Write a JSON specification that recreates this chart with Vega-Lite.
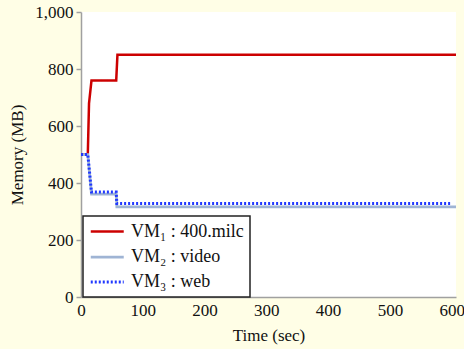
{
  "$schema": "https://vega.github.io/schema/vega-lite/v6.json",
  "autosize": {"type": "none"},
  "padding": {"left": 81, "top": 12, "right": 8, "bottom": 52},
  "width": 375,
  "height": 285,
  "background": "#fffee6",
  "config": {
    "view": {"fill": "white", "stroke": null},
    "font": "Liberation Serif",
    "axis": {
      "grid": false,
      "domainColor": "#a0a0a0",
      "domainWidth": 1.5,
      "tickColor": "#a0a0a0",
      "tickWidth": 1.5,
      "labelColor": "#111111",
      "titleColor": "#111111",
      "labelFont": "Liberation Serif",
      "titleFont": "Liberation Serif",
      "labelFontSize": 17,
      "titleFontSize": 17,
      "titleFontWeight": "normal"
    },
    "legend": {
      "labelFont": "Liberation Serif",
      "labelFontSize": 18,
      "labelColor": "#111111",
      "strokeColor": "#222222",
      "strokeWidth": 1.5,
      "fillColor": "white",
      "padding": 6,
      "rowPadding": 6,
      "symbolType": "M-1,0H3",
      "symbolSize": 272,
      "labelOffset": 22,
      "labelLimit": 300
    }
  },
  "data": {
    "values": [
      {"t": 0, "mem": 500, "vm": "VM₁ : 400.milc"},
      {"t": 11, "mem": 500, "vm": "VM₁ : 400.milc"},
      {"t": 13, "mem": 680, "vm": "VM₁ : 400.milc"},
      {"t": 17, "mem": 760, "vm": "VM₁ : 400.milc"},
      {"t": 57, "mem": 760, "vm": "VM₁ : 400.milc"},
      {"t": 59, "mem": 850, "vm": "VM₁ : 400.milc"},
      {"t": 607, "mem": 850, "vm": "VM₁ : 400.milc"},
      {"t": 0, "mem": 500, "vm": "VM₂ : video"},
      {"t": 11, "mem": 500, "vm": "VM₂ : video"},
      {"t": 17, "mem": 361, "vm": "VM₂ : video"},
      {"t": 57, "mem": 361, "vm": "VM₂ : video"},
      {"t": 58, "mem": 316, "vm": "VM₂ : video"},
      {"t": 607, "mem": 316, "vm": "VM₂ : video"},
      {"t": 0, "mem": 500, "vm": "VM₃ : web"},
      {"t": 11, "mem": 500, "vm": "VM₃ : web"},
      {"t": 17, "mem": 368, "vm": "VM₃ : web"},
      {"t": 57, "mem": 368, "vm": "VM₃ : web"},
      {"t": 58, "mem": 328, "vm": "VM₃ : web"},
      {"t": 600, "mem": 328, "vm": "VM₃ : web"}
    ]
  },
  "mark": {"type": "line", "clip": true},
  "encoding": {
    "x": {
      "field": "t",
      "type": "quantitative",
      "scale": {"domain": [0, 607], "nice": false},
      "axis": {"title": "Time (sec)", "values": [0, 100, 200, 300, 400, 500, 600], "ticks": false, "labelPadding": 5, "titlePadding": 9, "labelFlush": false}
    },
    "y": {
      "field": "mem",
      "type": "quantitative",
      "scale": {"domain": [0, 1000], "nice": false},
      "axis": {"title": "Memory (MB)", "values": [0, 200, 400, 600, 800, 1000], "format": ",d", "tickSize": 5, "labelPadding": 3, "titlePadding": 8, "labelFlush": false}
    },
    "color": {
      "field": "vm",
      "type": "nominal",
      "scale": {"domain": ["VM₁ : 400.milc", "VM₂ : video", "VM₃ : web"], "range": ["#cc0000", "#9fb4d4", "#2038ff"]},
      "legend": {"title": null, "orient": "none", "legendX": 2, "legendY": 204}
    },
    "strokeDash": {
      "field": "vm",
      "type": "nominal",
      "scale": {"domain": ["VM₁ : 400.milc", "VM₂ : video", "VM₃ : web"], "range": [[1, 0], [1, 0], [2, 2]]},
      "legend": {"title": null, "orient": "none", "legendX": 2, "legendY": 204}
    },
    "strokeWidth": {
      "field": "vm",
      "type": "ordinal",
      "scale": {"domain": ["VM₁ : 400.milc", "VM₂ : video", "VM₃ : web"], "range": [2.5, 3, 2]},
      "legend": {"title": null, "orient": "none", "legendX": 2, "legendY": 204}
    }
  }
}
